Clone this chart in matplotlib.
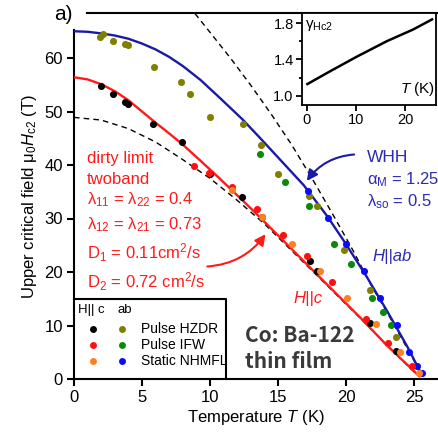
import matplotlib.pyplot as plt
import matplotlib.ticker as mticker

plt.rcParams['font.family'] = ['Liberation Sans', 'DejaVu Sans']
plt.rcParams['mathtext.fontset'] = 'custom'
plt.rcParams['mathtext.rm'] = 'Liberation Sans'
plt.rcParams['mathtext.it'] = 'Liberation Sans:italic'
plt.rcParams['mathtext.bf'] = 'Liberation Sans:bold'

# H || c data (T in K, mu0 Hc2 in T)
c_hzdr_T = [2.0, 2.9, 3.75, 4.0, 5.8, 7.95, 10.0, 12.35, 13.8, 17.35, 17.9, 21.8, 23.7]
c_hzdr_H = [54.8, 53.3, 51.8, 51.4, 47.6, 44.3, 38.3, 34.0, 30.3, 22.1, 20.2, 10.5, 5.2]
c_ifw_T = [8.8, 9.9, 11.6, 13.45, 15.4, 17.1, 19.0, 21.5, 23.1, 24.85]
c_ifw_H = [39.8, 38.5, 35.9, 31.8, 26.9, 23.0, 18.1, 11.2, 6.7, 2.4]
c_nhmfl_T = [11.6, 13.8, 16.0, 18.1, 20.1, 22.2, 24.0, 25.4]
c_nhmfl_H = [35.3, 30.3, 25.2, 20.2, 15.1, 10.3, 5.0, 1.1]

# H || ab data
ab_hzdr_T = [1.9, 2.1, 2.9, 3.75, 4.0, 5.9, 7.9, 8.5, 10.0, 12.4, 13.75, 15.0, 17.3, 17.9, 19.85, 21.8, 23.7]
ab_hzdr_H = [63.9, 64.5, 63.2, 62.6, 62.4, 58.3, 55.5, 53.3, 49.0, 47.7, 43.7, 38.4, 34.2, 32.3, 24.1, 16.6, 7.9]
ab_ifw_T = [13.7, 15.5, 17.3, 19.1, 20.4, 21.9, 22.7, 23.3]
ab_ifw_H = [42.0, 36.9, 32.4, 25.3, 21.5, 15.2, 12.6, 10.1]
ab_nhmfl_T = [17.2, 18.7, 20.0, 21.3, 22.5, 23.75, 24.6, 25.2, 25.6]
ab_nhmfl_H = [35.2, 30.1, 25.2, 20.1, 15.2, 10.1, 5.0, 2.4, 1.1]

# fit curves
whh_T = [0, 1, 2, 3, 4, 5, 6, 7, 8, 9.3, 10.7, 12.4, 13.7, 15.3, 16.9, 18.6, 19.9, 21.5, 23.0, 24.5, 25.45]
whh_H = [65.0, 64.9, 64.6, 64.2, 63.6, 62.7, 61.6, 60.2, 58.5, 55.9, 52.6, 48.5, 45.0, 40.6, 36.2,
         30.5, 25.6, 19.2, 12.8, 6.1, 1.4]
twoband_T = [0, 1, 2, 3, 4, 5, 6, 7, 8, 9.3, 10.7, 13, 15.1, 18, 21, 23, 25.4]
twoband_H = [56.4, 56.0, 55.1, 53.8, 52.1, 50.0, 47.9, 45.9, 43.8, 40.8, 37.5, 31.9, 26.6, 19.2, 11.6, 6.3, 0.5]
lowdash_T = [0, 2, 4, 6, 8, 10, 12, 14, 16, 18, 21, 23, 25.3]
lowdash_H = [48.9, 48.4, 46.8, 44.3, 41.0, 37.5, 33.4, 29.0, 24.0, 19.0, 11.5, 6.3, 0.6]
updash_T = [8.9, 10.0, 11.5, 13.0, 14.5, 16.0, 17.5, 19.0, 20.5, 21.9, 23.3, 25.45]
updash_H = [68.3, 64.8, 60.0, 54.9, 49.5, 43.8, 37.5, 30.9, 24.1, 17.3, 11.2, 1.4]

# anisotropy gamma_Hc2(T)
gamma_T = [0.1, 4.7, 10.1, 16.2, 21.6, 25.4]
gamma_val = [1.13, 1.27, 1.43, 1.60, 1.73, 1.84]

W, H = 438, 433
fig = plt.figure(figsize=(W / 100, H / 100), dpi=100)
ax = fig.add_axes([74 / W, 1 - 379 / H, 364 / W, 366 / H])
ax.set_xlim(0, 364 / 13.6)
ax.set_ylim(0, 366 / 5.35)

ax.plot(updash_T, updash_H, color='black', ls=(0, (4, 3)), lw=1.0, zorder=2)
ax.plot(lowdash_T, lowdash_H, color='black', ls=(0, (4, 3)), lw=1.0, zorder=2)
ax.plot(whh_T, whh_H, color='#1a1aa8', lw=1.7, zorder=3)
ax.plot(twoband_T, twoband_H, color='#ff1a1a', lw=1.7, zorder=3)

ms = 26
ax.scatter(ab_hzdr_T, ab_hzdr_H, s=ms, color='#808000', zorder=4, lw=0)
ax.scatter(ab_ifw_T, ab_ifw_H, s=ms, color='#0a8a0a', zorder=4, lw=0)
ax.scatter(ab_nhmfl_T, ab_nhmfl_H, s=ms, color='#0a0aff', zorder=4, lw=0)
ax.scatter(c_hzdr_T, c_hzdr_H, s=ms, color='black', zorder=4, lw=0)
ax.scatter(c_ifw_T, c_ifw_H, s=ms, color='#ff1010', zorder=4, lw=0)
ax.scatter(c_nhmfl_T, c_nhmfl_H, s=ms, color='#ff8020', zorder=4, lw=0)

for s in ['left', 'bottom', 'top']:
    ax.spines[s].set_linewidth(1.5)
ax.spines['right'].set_visible(False)
ax.spines['left'].set_bounds(0, 65.2)
ax.spines['top'].set_bounds(0.95, 364 / 13.6)
ax.set_xticks([0, 5, 10, 15, 20, 25])
ax.set_yticks([0, 10, 20, 30, 40, 50, 60])
ax.tick_params(direction='out', length=5, width=1.5, labelsize=12, pad=3)
ax.set_xlabel('Temperature $\\mathit{T}$ (K)', fontsize=12, labelpad=2)
ax.set_ylabel('Upper critical field μ$_0$$\\mathit{H}$$_{\\mathrm{c2}}$ (T)', fontsize=12, labelpad=4)
ax.text(-0.055, 0.997, 'a)', transform=ax.transAxes, fontsize=15, va='center', ha='left')

# two-band fit parameters
red = '#ff1a1a'
pars = ['dirty limit', 'twoband', 'λ$_{11}$ = λ$_{22}$ = 0.4', 'λ$_{12}$ = λ$_{21}$ = 0.73',
        'D$_1$ = 0.11cm$^2$/s', 'D$_2$ = 0.72 cm$^2$/s']
ys = [159, 179, 200, 225, 253, 282]
for txt, y in zip(pars, ys):
    ax.text(87 / W, 1 - y / H, txt, transform=fig.transFigure, color=red, fontsize=12,
            va='center', ha='left')
ax.annotate('', xy=(14.2, 27.5), xytext=(9.6, 21.0),
            arrowprops=dict(arrowstyle='-|>', color=red, lw=1.5, mutation_scale=16,
                            connectionstyle='arc3,rad=0.25'))

# WHH parameters
navy = '#2a2ab4'
ax.text(367 / W, 1 - 157 / H, 'WHH', transform=fig.transFigure, color=navy, fontsize=12.5,
        va='center', ha='left')
ax.text(367 / W, 1 - 180 / H, 'α$_{\\mathrm{M}}$ = 1.25', transform=fig.transFigure, color=navy,
        fontsize=12, va='center', ha='left')
ax.text(367 / W, 1 - 202 / H, 'λ$_{\\mathrm{so}}$ = 0.5', transform=fig.transFigure, color=navy,
        fontsize=12, va='center', ha='left')
ax.annotate('', xy=(17.0, 36.6), xytext=(20.8, 42.0),
            arrowprops=dict(arrowstyle='-|>', color='#1a1aa8', lw=1.5, mutation_scale=16,
                            connectionstyle='arc3,rad=0.25'))
ax.text(372 / W, 1 - 256 / H, 'H||ab', transform=fig.transFigure, color=navy, fontsize=12,
        style='italic', va='center', ha='left')
ax.text(293 / W, 1 - 298 / H, 'H||c', transform=fig.transFigure, color=red, fontsize=12,
        style='italic', va='center', ha='left')

ax.text(245 / W, 1 - 335 / H, 'Co: Ba-122', transform=fig.transFigure, color='#3a3a3a',
        fontsize=15, fontweight='bold', family=['Noto Sans CJK JP', 'DejaVu Sans'],
        va='center', ha='left')
ax.text(245 / W, 1 - 361 / H, 'thin film', transform=fig.transFigure, color='#3a3a3a',
        fontsize=15, fontweight='bold', family=['Noto Sans CJK JP', 'DejaVu Sans'],
        va='center', ha='left')

# legend box
lx0, lx1, ly0 = 74 / W, 226 / W, 1 - 299 / H
fig.add_artist(plt.Line2D([lx0, lx1, lx1], [ly0, ly0, 1 - 379 / H], color='black', lw=1.5,
                          transform=fig.transFigure))
fig.text(78 / W, 1 - 310 / H, 'H|| c', fontsize=9.5, va='center', ha='left')
fig.text(117 / W, 1 - 310 / H, 'ab', fontsize=9.5, va='center', ha='left')
leg_rows = [('black', '#808000', 'Pulse HZDR'), ('#ff1010', '#0a8a0a', 'Pulse IFW'),
            ('#ff8020', '#0a0aff', 'Static NHMFL')]
for (cc, cab, lab), y in zip(leg_rows, [329, 345, 361]):
    fig.add_artist(plt.Line2D([93 / W], [1 - y / H], marker='o', ms=5, color=cc, mew=0,
                              transform=fig.transFigure))
    fig.add_artist(plt.Line2D([122 / W], [1 - y / H], marker='o', ms=5, color=cab, mew=0,
                              transform=fig.transFigure))
    fig.text(141 / W, 1 - y / H, lab, fontsize=10, va='center', ha='left')

# inset: anisotropy
ins = fig.add_axes([302 / W, 1 - 105 / H, 134 / W, 92 / H])
ins.plot(gamma_T, gamma_val, color='black', lw=1.8)
ins.set_xlim(-1, 26.2)
ins.set_ylim(0.90, 1.91)
ins.set_xticks([0, 10, 20])
ins.set_yticks([1.0, 1.4, 1.8])
ins.yaxis.set_minor_locator(mticker.MultipleLocator(0.2))
ins.xaxis.set_minor_locator(mticker.NullLocator())
ins.set_yticklabels(['1.0', '1.4', '1.8'])
for s in ins.spines.values():
    s.set_linewidth(1.3)
ins.tick_params(direction='out', length=4, width=1.3, labelsize=10.5, pad=2)
ins.tick_params(which='minor', direction='out', length=2.5, width=1.3)
ins.text(0.02, 0.86, 'γ$_{\\mathrm{Hc2}}$', transform=ins.transAxes, fontsize=11,
         va='center', ha='left')
ins.text(0.99, 0.17, '$\\mathit{T}$ (K)', transform=ins.transAxes, fontsize=11,
         va='center', ha='right')

fig.savefig('out.png', dpi=100)
